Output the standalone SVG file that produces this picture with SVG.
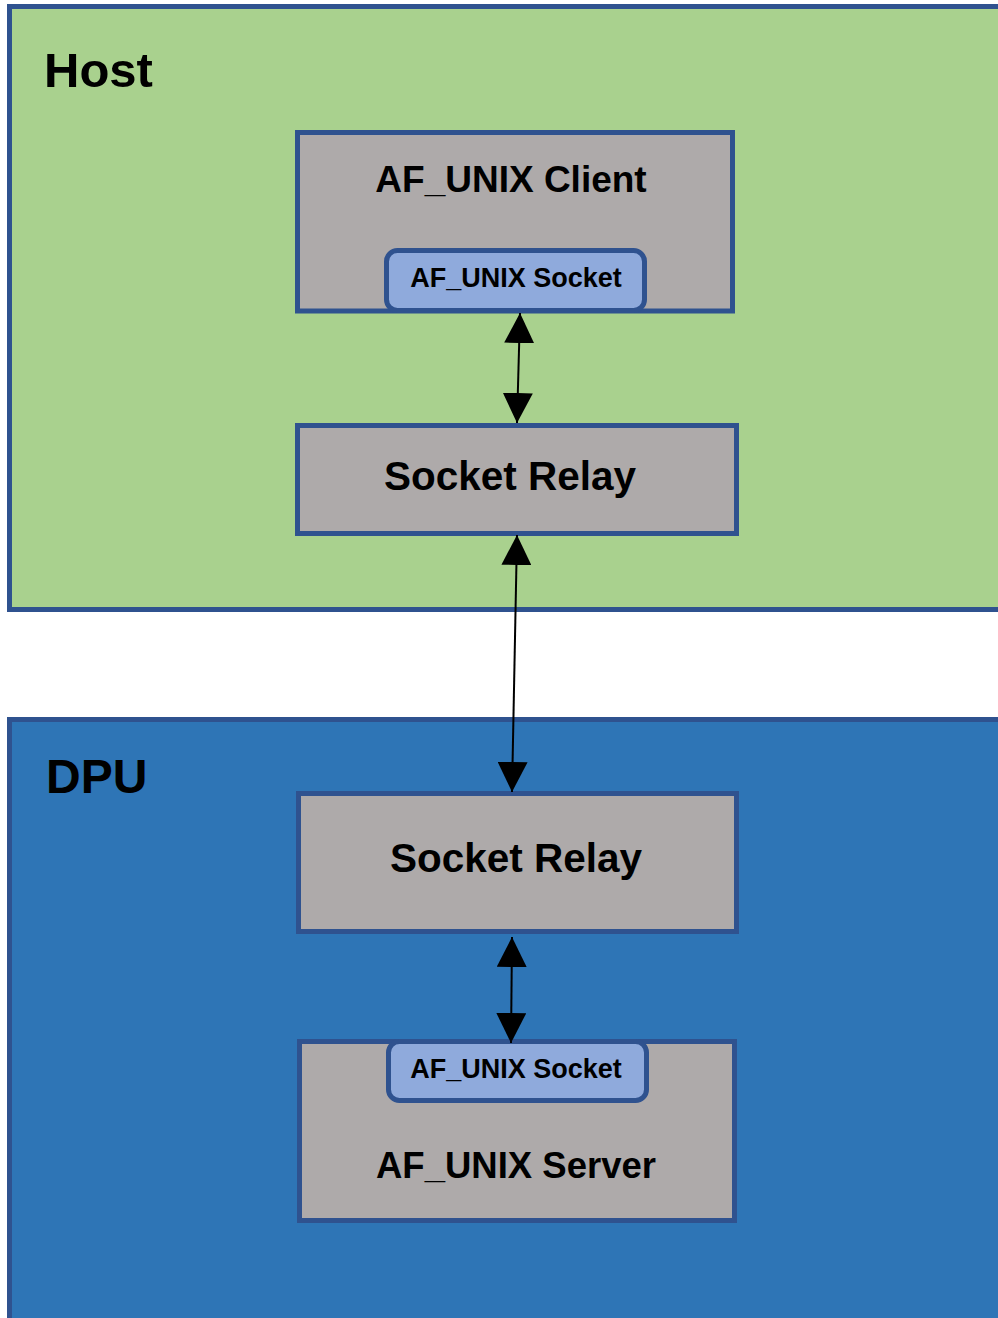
<svg xmlns="http://www.w3.org/2000/svg" width="998" height="1318" viewBox="0 0 998 1318">
  <style>
    .zone { stroke: #2F528F; stroke-width: 5; }
    .box { fill: #AEAAAA; stroke: #2F528F; stroke-width: 5; }
    .sock { fill: #8FAADC; stroke: #2F528F; stroke-width: 5; }
    .t { font-family: "Liberation Sans", Arial, sans-serif; font-weight: bold; fill: #000; text-anchor: middle; }
    .zt { font-family: "Liberation Sans", Arial, sans-serif; font-weight: bold; fill: #000; }
    .conn { stroke: #000; stroke-width: 2; fill: none; marker-start: url(#ah); marker-end: url(#ah); }
  </style>
  <defs>
    <marker id="ah" markerUnits="userSpaceOnUse" markerWidth="30" markerHeight="30" viewBox="0 0 30 30" refX="30" refY="15" orient="auto-start-reverse">
      <path d="M0,0 L30,15 L0,30 z" fill="#000"/>
    </marker>
  </defs>
  <rect width="998" height="1318" fill="#FFFFFF"/>

  <g id="host">
    <rect class="zone" x="9.5" y="6.5" width="1000" height="603" fill="#A9D18E"/>
    <text class="zt" x="44" y="87" font-size="49">Host</text>
  </g>
  <g id="dpu">
    <rect class="zone" x="9.5" y="719.5" width="1000" height="620" fill="#2E75B6"/>
    <text class="zt" x="46" y="793" font-size="48">DPU</text>
  </g>

  <g id="af-unix-client">
    <rect class="box" x="297.5" y="132.5" width="435" height="178.5"/>
    <text class="t" x="511" y="192" font-size="37">AF_UNIX Client</text>
  </g>
  <g id="client-socket">
    <rect class="sock" x="386.5" y="250.5" width="258" height="60" rx="11"/>
    <text class="t" x="516" y="287" font-size="27">AF_UNIX Socket</text>
  </g>

  <g id="host-socket-relay">
    <rect class="box" x="297.5" y="425.5" width="439" height="108"/>
    <text class="t" x="510" y="490" font-size="40.5">Socket Relay</text>
  </g>

  <g id="dpu-socket-relay">
    <rect class="box" x="298.5" y="793.5" width="438" height="138"/>
    <text class="t" x="516" y="872" font-size="40.5">Socket Relay</text>
  </g>

  <g id="af-unix-server">
    <rect class="box" x="299.5" y="1041.5" width="435" height="179"/>
    <text class="t" x="516" y="1178" font-size="36.5">AF_UNIX Server</text>
  </g>
  <g id="server-socket">
    <rect class="sock" x="388.5" y="1041.5" width="258" height="59" rx="11"/>
    <text class="t" x="516" y="1078" font-size="27">AF_UNIX Socket</text>
  </g>

  <g id="connectors">
    <line class="conn" x1="520" y1="313" x2="517" y2="423"/>
    <line class="conn" x1="517" y1="535" x2="512" y2="792"/>
    <line class="conn" x1="512" y1="937" x2="511" y2="1043"/>
  </g>
</svg>
